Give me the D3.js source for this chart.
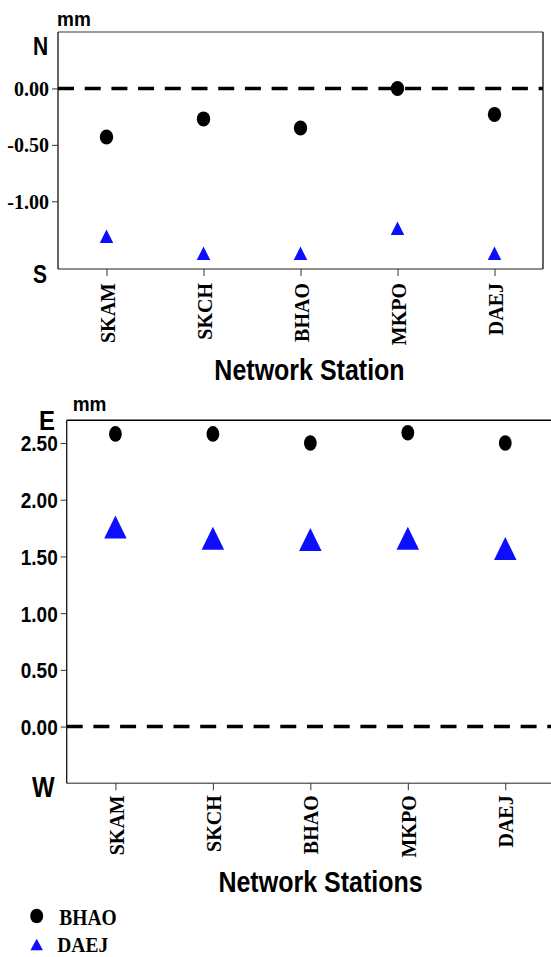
<!DOCTYPE html>
<html>
<head>
<meta charset="utf-8">
<script src="https://cdn.jsdelivr.net/npm/d3@7"></script>
<style>
  html, body { margin:0; padding:0; background:#fff; }
  svg { display:block; }
</style>
</head>
<body>
<svg id="chart" width="551" height="957"></svg>
<script>
// station order on both panels
const stations = ["SKAM", "SKCH", "BHAO", "MKPO", "DAEJ"];

// north-south component (mm)
const nsBHAO = [-0.43, -0.27, -0.35, 0.00, -0.23];
const nsDAEJ = [-1.31, -1.46, -1.46, -1.24, -1.46];
const nsTicks = [0, -0.5, -1.0];

// east-west component (mm)
const ewBHAO = [2.58, 2.58, 2.50, 2.59, 2.50];
const ewDAEJ = [1.76, 1.66, 1.65, 1.66, 1.57];
const ewTicks = [0, 0.5, 1.0, 1.5, 2.0, 2.5];

const BLUE = "#0d0dff";
const SERIF = "'Liberation Serif', 'Times New Roman', serif";
const SANS = "'Liberation Sans', Arial, sans-serif";

const svg = d3.select("#chart");

// text stretched vertically a bit, like the source picture
function label(g, txt, x, y, o){
  o = o || {};
  return g.append("text")
    .attr("transform", `translate(${x},${y}) scale(1,${o.sy||1})`)
    .attr("text-anchor", o.anchor || "start")
    .style("font-family", o.font || SANS)
    .style("font-weight", "bold")
    .style("font-size", (o.size||20) + "px")
    .attr("fill", "#000")
    .text(txt);
}

const tri = (w, h) => `M0,${-h/2}L${w/2},${h/2}L${-w/2},${h/2}Z`;

function panel(cfg){
  const g = svg.append("g");
  const x = d3.scalePoint().domain(stations).range([cfg.left, cfg.right]).padding(0.5);
  const y = d3.scaleLinear().domain(cfg.domain).range([cfg.bottom, cfg.top]);

  // dashed zero line
  g.append("line")
    .attr("x1", cfg.left).attr("x2", cfg.right)
    .attr("y1", y(0)).attr("y2", y(0))
    .attr("stroke", "#000").attr("stroke-width", 3.5)
    .attr("stroke-dasharray", "16,10.7");

  // frame
  const fr = g.append("g");
  fr.append("line").attr("x1", cfg.left).attr("x2", cfg.right).attr("y1", cfg.top).attr("y2", cfg.top)
    .attr("stroke", cfg.topColor).attr("stroke-width", 1.5);
  fr.append("line").attr("x1", cfg.left).attr("x2", cfg.right).attr("y1", cfg.bottom).attr("y2", cfg.bottom)
    .attr("stroke", "#6a6a6a").attr("stroke-width", 1.5);
  fr.append("line").attr("x1", cfg.left).attr("x2", cfg.left).attr("y1", cfg.top).attr("y2", cfg.bottom)
    .attr("stroke", "#111").attr("stroke-width", 1.3);
  fr.append("line").attr("x1", cfg.right).attr("x2", cfg.right).attr("y1", cfg.top).attr("y2", cfg.bottom)
    .attr("stroke", "#111").attr("stroke-width", 1.3);

  // y axis
  const ay = g.append("g").attr("transform", `translate(${cfg.left},0)`)
    .call(d3.axisLeft(y).tickValues(cfg.ticks).tickSize(6).tickPadding(cfg.yPad)
      .tickFormat(d => d.toFixed(2)));
  ay.select(".domain").remove();
  ay.selectAll("line").attr("stroke", "#333");
  ay.selectAll("text")
    .attr("dy", null).attr("y", 0)
    .attr("transform", `translate(0,${cfg.yShift}) scale(1,${cfg.ySy})`)
    .style("font-family", cfg.yFont).style("font-weight", "bold")
    .style("font-size", cfg.ySize + "px").attr("fill", "#000");

  // x axis, rotated station names
  const ax = g.append("g").attr("transform", `translate(0,${cfg.bottom})`)
    .call(d3.axisBottom(x).tickSize(7));
  ax.select(".domain").remove();
  ax.selectAll("line").attr("stroke", "#333");
  ax.selectAll("text")
    .attr("transform", "rotate(-90)")
    .attr("x", -cfg.xOff).attr("y", 0).attr("dy", "0.38em")
    .style("text-anchor", "end")
    .style("font-family", SERIF).style("font-weight", "bold")
    .style("font-size", "20px").attr("fill", "#000");

  // BHAO circles
  g.selectAll(".c").data(cfg.bhao).join("ellipse")
    .attr("cx", (d, i) => x(stations[i])).attr("cy", d => y(d))
    .attr("rx", cfg.rx).attr("ry", cfg.ry).attr("fill", "#000");

  // DAEJ triangles
  g.selectAll(".t").data(cfg.daej).join("path")
    .attr("d", tri(cfg.tw, cfg.th))
    .attr("transform", (d, i) => `translate(${x(stations[i])},${y(d)})`)
    .attr("fill", BLUE);

  return g;
}

// north-south panel
const nsPanel = panel({
  left: 58, right: 543, top: 32, bottom: 269, domain: [-1.6, 0.5],
  ticks: nsTicks, topColor: "#7a7a7a",
  yFont: SERIF, ySize: 20, ySy: 1.05, yPad: 3, yShift: 7,
  xOff: 14, rx: 6.7, ry: 7.5, tw: 13.5, th: 13.5,
  bhao: nsBHAO, daej: nsDAEJ
});
label(nsPanel, "mm", 57, 26, {size: 19, sy: 1.1});
label(nsPanel, "N", 33, 55, {size: 21, sy: 1.2});
label(nsPanel, "S", 33, 283, {size: 21, sy: 1.2});
label(nsPanel, "Network Station", 309.5, 380, {size: 25, sy: 1.15, anchor: "middle"});

// east-west panel
const ewPanel = panel({
  left: 66.7, right: 554, top: 420.3, bottom: 783.3, domain: [-0.5, 2.7],
  ticks: ewTicks, topColor: "#000",
  yFont: SANS, ySize: 19, ySy: 1.15, yPad: 3, yShift: 8,
  xOff: 12, rx: 6.4, ry: 7.8, tw: 22.5, th: 23,
  bhao: ewBHAO, daej: ewDAEJ
});
label(ewPanel, "mm", 72.7, 411, {size: 19, sy: 1.1});
label(ewPanel, "E", 39, 429.5, {size: 24, sy: 1.15});
label(ewPanel, "W", 32, 796.7, {size: 24, sy: 1.25});
label(ewPanel, "Network Stations", 320.5, 891.7, {size: 25, sy: 1.15, anchor: "middle"});

// legend
const lg = svg.append("g");
lg.append("ellipse").attr("cx", 36.7).attr("cy", 916).attr("rx", 6.5).attr("ry", 7.3).attr("fill", "#000");
label(lg, "BHAO", 59.3, 925, {font: SERIF, size: 19.5, sy: 1.2});
lg.append("path").attr("d", tri(12.5, 11.5)).attr("transform", "translate(36.7,944.5)").attr("fill", BLUE);
label(lg, "DAEJ", 57.3, 951.5, {font: SERIF, size: 19.5, sy: 1.1});
</script>
</body>
</html>
